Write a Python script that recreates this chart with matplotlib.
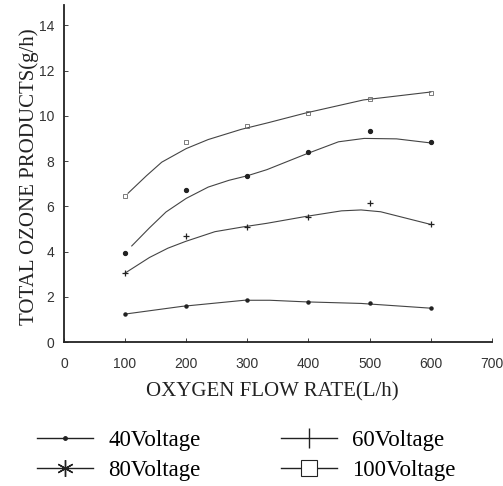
import numpy as np
import matplotlib
matplotlib.use("Agg")
import matplotlib.pyplot as plt
from matplotlib.lines import Line2D

# measured points (markers)
flow = [100, 200, 300, 400, 500, 600]
ozone_40 = [1.24, 1.58, 1.85, 1.78, 1.71, 1.53]
ozone_60 = [3.05, 4.69, 5.09, 5.55, 6.14, 5.24]
ozone_80 = [3.96, 6.71, 7.34, 8.38, 9.33, 8.82]
ozone_100 = [6.46, 8.82, 9.54, 10.14, 10.75, 11.00]

# fitted curves
curve_40_x = [100, 193, 295, 337, 395, 486, 600]
curve_40_y = [1.24, 1.58, 1.85, 1.85, 1.78, 1.71, 1.50]
curve_60_x = [100, 140, 170, 199, 247, 295, 332, 395, 454, 486, 518, 600]
curve_60_y = [3.05, 3.74, 4.15, 4.45, 4.88, 5.10, 5.25, 5.55, 5.80, 5.84, 5.76, 5.20]
curve_80_x = [111, 140, 167, 200, 236, 270, 300, 332, 395, 449, 491, 544, 600]
curve_80_y = [4.25, 5.05, 5.75, 6.35, 6.85, 7.15, 7.35, 7.62, 8.30, 8.85, 9.00, 8.98, 8.80]
curve_100_x = [105, 135, 160, 200, 236, 290, 335, 395, 490, 600]
curve_100_y = [6.58, 7.35, 7.95, 8.55, 8.95, 9.40, 9.70, 10.12, 10.70, 11.05]

labels = ["40Voltage", "60Voltage", "80Voltage", "100Voltage"]
yticks = [0, 2, 4, 6, 8, 10, 12, 14]
xticks = [0, 100, 200, 300, 400, 500, 600, 700]

INK = "#222222"
SERIF = "Liberation Serif"

fig = plt.figure(figsize=(5.03, 4.86), dpi=100)
ax = fig.add_axes([0.127, 0.296, 0.851, 0.694])

curves = [(curve_40_x, curve_40_y), (curve_60_x, curve_60_y),
          (curve_80_x, curve_80_y), (curve_100_x, curve_100_y)]
for cx, cy in curves:
    ax.plot(cx, cy, color="#444444", lw=0.8)

ax.plot(flow, ozone_40, ls="none", marker="o", ms=2.2, color=INK)
ax.plot(flow, ozone_60, ls="none", marker="+", ms=5, mew=0.9, color=INK)
ax.plot(flow, ozone_80, ls="none", marker="o", ms=2.8, color=INK)
ax.plot(flow, ozone_100, ls="none", marker="s", ms=3.5, mew=0.6,
        mfc="none", color="#666666")

ax.set_xlim(0, 685)
ax.set_ylim(0, 14.9)
ax.set_xticks(xticks)
ax.set_yticks(yticks)
ax.spines["top"].set_visible(False)
ax.spines["right"].set_visible(False)
ax.spines["left"].set_color(INK)
ax.spines["bottom"].set_color(INK)
ax.spines["left"].set_linewidth(1.3)
ax.spines["bottom"].set_linewidth(1.3)
ax.tick_params(axis="both", direction="in", length=3, width=0.6,
               colors=INK, labelsize=10)
ax.tick_params(axis="x", pad=11)
ax.tick_params(axis="y", pad=7)
for t in ax.get_xticklabels() + ax.get_yticklabels():
    t.set_family("Liberation Sans")
    t.set_color("#333333")

ax.set_ylabel("TOTAL OZONE PRODUCTS(g/h)", family=SERIF, fontsize=15,
              color=INK)
ax.set_xlabel("OXYGEN FLOW RATE(L/h)", family=SERIF, fontsize=15,
              color=INK)
ax.yaxis.set_label_coords(-0.058, 0.49)
ax.xaxis.set_label_coords(0.486, -0.12)

handles = [
    Line2D([], [], color=INK, lw=1.0, marker="o", ms=2.5),
    Line2D([], [], color=INK, lw=1.0, marker="|", ms=14, mew=1.0),
    Line2D([], [], color=INK, lw=1.0, marker=(6, 2, 0), ms=12, mew=1.0),
    Line2D([], [], color=INK, lw=1.0, marker="s", ms=11, mew=0.8, mfc="white"),
]
order = [0, 2, 1, 3]
fig.legend([handles[i] for i in order], [labels[i] for i in order],
           loc="upper left", bbox_to_anchor=(0.074, 0.115), ncol=2,
           frameon=False, prop={"family": SERIF, "size": 16.5},
           handlelength=2.45, handletextpad=0.65, columnspacing=3.5,
           labelspacing=0.4, borderaxespad=0, borderpad=0)

fig.savefig("out.png", dpi=100)
